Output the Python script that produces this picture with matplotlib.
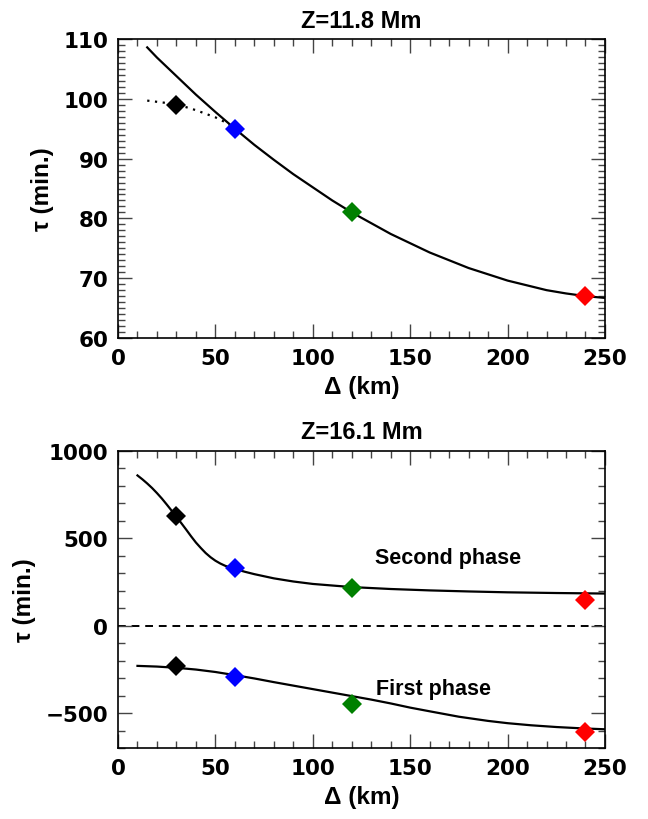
import numpy as np
import matplotlib
matplotlib.use("Agg")
import matplotlib.pyplot as plt
from matplotlib.ticker import MultipleLocator

# --- data ---
delta = [30, 60, 120, 240]                       # km
mk_colors = ["black", "#0000ff", "#008000", "#ff0000"]

# Z = 11.8 Mm
tau_top = [99.0, 95.0, 81.0, 67.0]
fit_top_x = [15, 20, 30, 40, 50, 60, 70, 80, 90, 100, 110, 120, 140, 160, 180, 200, 220, 230, 240, 250]
fit_top_y = [108.6, 106.9, 103.8, 100.7, 97.8, 95.0, 92.3, 89.8, 87.4, 85.2, 83.0, 81.0,
             77.4, 74.3, 71.7, 69.6, 68.0, 67.45, 67.0, 66.7]
dot_top_x = [15, 20, 25, 30, 35, 40, 45, 50, 55, 60]
dot_top_y = [99.7, 99.5, 99.3, 99.0, 98.6, 98.1, 97.5, 96.9, 96.1, 95.1]

# Z = 16.1 Mm
tau_second = [627, 330, 217, 149]
tau_first = [-230, -293, -446, -611]
fit_sec_x = [10, 12.5, 15, 17.5, 20, 22.5, 25, 27.5, 30, 32.5, 35, 37.5, 40, 42.5, 45, 47.5,
             50, 52.5, 55, 57.5, 60, 65, 70, 80, 90, 100, 120, 140, 160, 180, 200, 225, 250]
fit_sec_y = [860, 838, 814, 788, 759, 728, 694, 659, 623, 587, 550, 512, 476, 445, 416, 392,
             372, 356, 343, 333, 325, 309, 295, 271, 253, 239, 221, 210, 202, 196, 191, 187, 184]
fit_fir_x = [10, 20, 30, 40, 50, 60, 70, 80, 90, 100, 110, 120, 130, 140, 150, 160, 175, 190,
             200, 212, 225, 237, 250]
fit_fir_y = [-230, -234, -241, -251, -265, -283, -302, -323, -343, -363, -383, -403, -423, -445,
             -469, -490, -521, -545, -558, -570, -580, -587, -593]

# --- style ---
title_font = dict(family="Liberation Sans", weight="bold", size=17)
lab_font = dict(family="Liberation Sans", weight="bold", size=17.5)
note_font = dict(family="Liberation Sans", weight="bold", size=15.5)
tick_font = dict(family="DejaVu Sans", weight="bold", size=15.5)
ms = 10

fig = plt.figure(figsize=(6.48, 8.2), dpi=100)
ax1 = fig.add_axes([0.1821, 0.5866, 0.7515, 0.3646])
ax2 = fig.add_axes([0.1821, 0.0866, 0.7515, 0.3622])


def style_axes(ax, ymajor, yminor):
    ax.set_xlim(0, 250)
    ax.xaxis.set_major_locator(MultipleLocator(50))
    ax.xaxis.set_minor_locator(MultipleLocator(10))
    ax.yaxis.set_major_locator(MultipleLocator(ymajor))
    ax.yaxis.set_minor_locator(MultipleLocator(yminor))
    ax.tick_params(which="both", direction="in", top=True, right=True, width=1, color="#444444")
    ax.tick_params(which="major", length=10, pad=7)
    ax.tick_params(which="minor", length=5)
    for s in ax.spines.values():
        s.set_linewidth(1.2)
    for lab in ax.get_xticklabels() + ax.get_yticklabels():
        lab.set_fontfamily(tick_font["family"])
        lab.set_fontweight(tick_font["weight"])
        lab.set_fontsize(tick_font["size"])
    ax.set_xlabel("Δ (km)", labelpad=5, **lab_font)
    ax.set_ylabel("τ (min.)", labelpad=7, **lab_font)


# top panel
ax1.plot(fit_top_x, fit_top_y, color="black", lw=1.6, zorder=2)
ax1.plot(dot_top_x, dot_top_y, color="black", lw=1.6, ls=(0, (1, 2.5)), zorder=2)
for x, y, c in zip(delta, tau_top, mk_colors):
    ax1.plot(x, y, marker="D", ms=ms, mew=0, color=c, zorder=3)
ax1.set_ylim(60, 110)
style_axes(ax1, 10, 1)
ax1.set_title("Z=11.8 Mm", pad=9, **title_font)

# bottom panel
ax2.axhline(0, color="black", lw=1.4, ls=(0, (4, 3)), zorder=1)
ax2.plot(fit_sec_x, fit_sec_y, color="black", lw=1.6, zorder=2)
ax2.plot(fit_fir_x, fit_fir_y, color="black", lw=1.6, zorder=2)
for x, y1, y2, c in zip(delta, tau_second, tau_first, mk_colors):
    ax2.plot(x, y1, marker="D", ms=ms, mew=0, color=c, zorder=3)
    ax2.plot(x, y2, marker="D", ms=ms, mew=0, color=c, zorder=3)
ax2.set_ylim(-700, 1000)
ax2.text(132, 390, "Second phase", ha="left", va="center", **note_font)
ax2.text(132.5, -360, "First phase", ha="left", va="center", **note_font)
style_axes(ax2, 500, 100)
ax2.set_title("Z=16.1 Mm", pad=9, **title_font)

fig.savefig("out.png", dpi=100)
